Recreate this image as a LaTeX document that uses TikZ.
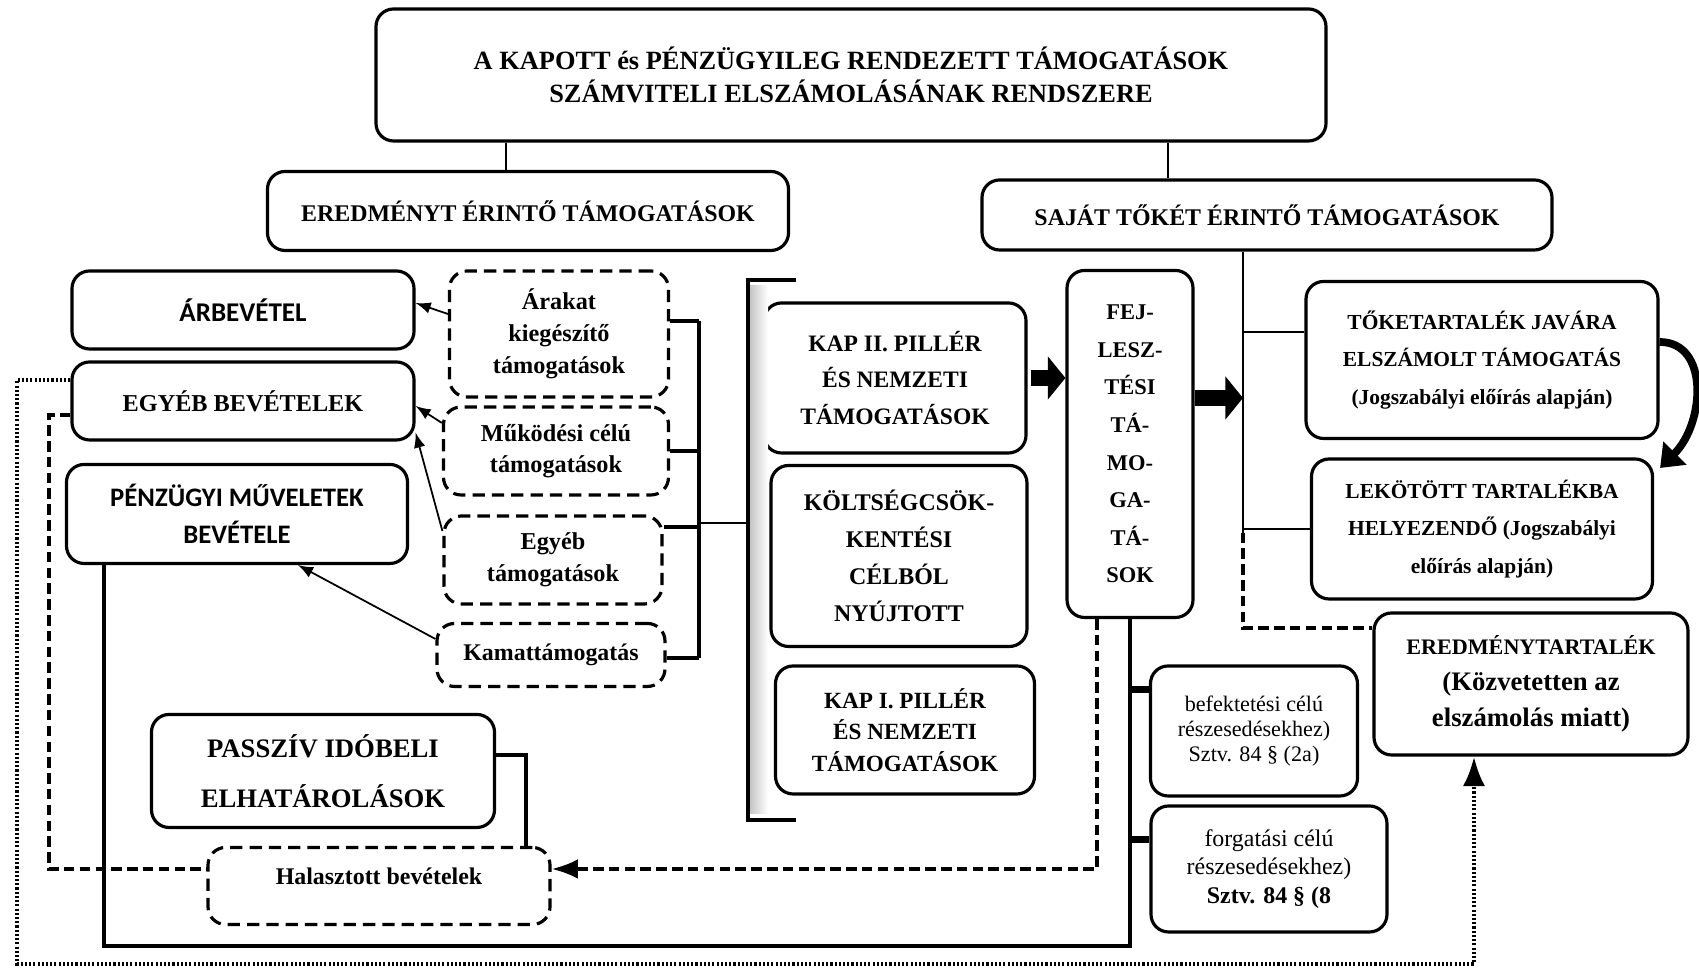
\documentclass[tikz,border=0pt]{standalone}
\usepackage{fontspec}
\setmainfont{Liberation Serif}
\newfontfamily\calib{Carlito}
\usetikzlibrary{arrows.meta}
\newcommand{\fsz}[2]{\fontsize{#1}{#2}\selectfont}

\begin{document}
\begin{tikzpicture}[
    box/.style={draw, rounded corners=5pt, line width=0.9pt, align=center, inner sep=1pt},
    dbox/.style={box, dash pattern=on 3.5pt off 2pt},
    link/.style={line width=0.6pt},
    brace/.style={line width=1.2pt},
    thin arrow/.style={-latex, line width=0.5pt},
    fat arrow/.style={line width=4.5pt, -{Triangle[length=5pt, width=12pt]}},
    dashlink/.style={line width=1pt, dash pattern=on 3pt off 1.5pt},
    dotlink/.style={line width=1.2pt, dash pattern=on 0.6pt off 0.6pt}]

    \useasboundingbox (0,0) rectangle (16.99,9.71);

    % Top level
    \node[box, minimum width=9.5cm, minimum height=1.32cm, font=\bfseries\fsz{7.5}{9.3}] (title) at (8.51,8.96)
        {A KAPOTT és PÉNZÜGYILEG RENDEZETT TÁMOGATÁSOK\\SZÁMVITELI ELSZÁMOLÁSÁNAK RENDSZERE};
    \node[box, minimum width=5.21cm, minimum height=0.79cm, font=\bfseries\fsz{6.8}{8}] (ered) at (5.28,7.60)
        {EREDMÉNYT ÉRINTŐ TÁMOGATÁSOK};
    \node[box, minimum width=5.70cm, minimum height=0.70cm, font=\bfseries\fsz{6.8}{8}] (sajat) at (12.67,7.56)
        {SAJÁT TŐKÉT ÉRINTŐ TÁMOGATÁSOK};

    % Left column
    \node[box, minimum width=3.42cm, minimum height=0.78cm, font=\calib\bfseries\fsz{7.7}{9}] (arbev) at (2.43,6.61) {ÁRBEVÉTEL};
    \node[box, minimum width=3.42cm, minimum height=0.78cm, font=\bfseries\fsz{6.9}{8}] (egyeb) at (2.43,5.70) {EGYÉB BEVÉTELEK};
    \node[box, minimum width=3.41cm, minimum height=0.99cm, font=\calib\bfseries\fsz{7.6}{10.5}] (penz) at (2.37,4.57)
        {PÉNZÜGYI MŰVELETEK\\BEVÉTELE};

    % Dashed support types
    \node[dbox, minimum width=2.19cm, minimum height=1.26cm, font=\bfseries\fsz{6.9}{9.1}] (arakat) at (5.59,6.37)
        {Árakat\\kiegészítő\\támogatások};
    \node[dbox, minimum width=2.25cm, minimum height=0.88cm, font=\bfseries\fsz{6.9}{8.9}] (muk) at (5.56,5.20)
        {Működési célú\\támogatások};
    \node[dbox, minimum width=2.18cm, minimum height=0.88cm, font=\bfseries\fsz{6.9}{9.2}] (egyt) at (5.53,4.11)
        {Egyéb\\támogatások};
    \node[dbox, minimum width=2.28cm, minimum height=0.63cm, font=\bfseries\fsz{6.8}{8}] (kamat) at (5.51,3.16)
        {Kamattámogatás};

    % Middle column
    \node[box, minimum width=2.62cm, minimum height=1.50cm, font=\bfseries\fsz{6.7}{10.5}] (kap2) at (8.95,5.93)
        {KAP II. PILLÉR\\ÉS NEMZETI\\TÁMOGATÁSOK};
    \node[box, minimum width=2.56cm, minimum height=1.81cm, font=\bfseries\fsz{6.8}{10.5}] (kolts) at (8.99,4.15)
        {KÖLTSÉGCSÖK-\\KENTÉSI\\CÉLBÓL\\NYÚJTOTT};
    \node[box, minimum width=2.59cm, minimum height=1.28cm, font=\bfseries\fsz{6.6}{8.9}] (kap1) at (9.05,2.41)
        {KAP I. PILLÉR\\ÉS NEMZETI\\TÁMOGATÁSOK};
    \node[box, minimum width=1.26cm, minimum height=3.47cm, font=\bfseries\fsz{6.4}{10.7}] (fej) at (11.30,5.27)
        {FEJ-\\LESZ-\\TÉSI\\TÁ-\\MO-\\GA-\\TÁ-\\SOK};

    % Right column
    \node[box, minimum width=3.52cm, minimum height=1.57cm, font=\bfseries\fsz{6.1}{10.6}] (toke) at (14.82,6.11)
        {TŐKETARTALÉK JAVÁRA\\ELSZÁMOLT TÁMOGATÁS\\(Jogszabályi előírás alapján)};
    \node[box, minimum width=3.41cm, minimum height=1.40cm, font=\bfseries\fsz{6.1}{10.6}] (lekot) at (14.82,4.42)
        {LEKÖTÖTT TARTALÉKBA\\HELYEZENDŐ (Jogszabályi\\előírás alapján)};
    \node[box, minimum width=3.14cm, minimum height=1.42cm, font=\bfseries\fsz{7.6}{10.3}] (eredt) at (15.31,2.87)
        {{\fsz{6.3}{10.3}EREDMÉNYTARTALÉK}\\(Közvetetten az\\elszámolás miatt)};
    \node[box, minimum width=2.07cm, minimum height=1.30cm, font=\fsz{6.3}{7.1}] (befekt) at (12.54,2.40)
        {befektetési célú\\részesedésekhez)\\Sztv. 84 § (2a)};
    \node[box, minimum width=2.36cm, minimum height=1.26cm, font=\fsz{6.8}{8.2}] (forgat) at (12.69,1.02)
        {forgatási célú\\részesedésekhez)\\\textbf{Sztv. 84 § (8}};

    % Bottom
    \node[box, minimum width=3.43cm, minimum height=1.13cm, font=\bfseries\fsz{7.6}{14.2}] (passz) at (3.23,2.00)
        {PASSZÍV IDÓBELI\\ELHATÁROLÁSOK};
    \node[dbox, minimum width=3.42cm, minimum height=0.77cm, font=\bfseries\fsz{6.8}{8}] (hal) at (3.79,0.85)
        {\raisebox{5.5pt}{Halasztott bevételek}};

    % Title links
    \draw[link] (title.south -| 5.06,0) -- (ered.north -| 5.06,0);
    \draw[link] (title.south -| 11.68,0) -- (sajat.north -| 11.68,0);

    % Arrows to revenues
    \draw[thin arrow] ([yshift=0.2cm]arakat.west) -- ([yshift=0.07cm]arbev.east);
    \draw[thin arrow] ([yshift=0.28cm]muk.west) -- ([yshift=-0.05cm]egyeb.east);
    \draw[thin arrow] ([yshift=0.29cm]egyt.west) -- ([yshift=0.09cm]egyeb.south east);
    \draw[thin arrow] ([yshift=0.16cm]kamat.west) -- ([xshift=0.61cm]penz.south);

    % Small bracket
    \coordinate (bt) at (6.99,6.50);
    \coordinate (bb) at (6.99,3.13);
    \coordinate (bm) at (6.99,4.48);
    \draw[brace] (bt) -- (bb);
    \draw[brace] (arakat.east |- bt) -- (bt);
    \draw[brace] (muk.east) -- (muk.east -| bt);
    \draw[brace] ([yshift=0.33cm]egyt.east) -- ([yshift=0.33cm]egyt.east -| bt);
    \draw[brace] (kamat.east |- bb) -- (bb);

    % Big bracket
    \coordinate (gt) at (7.48,6.91);
    \coordinate (gb) at (7.48,1.51);
    \shade[left color=gray!45, right color=white] (7.50,6.85) rectangle (7.68,1.57);
    \draw[link] (bm) -- (bm -| gt);
    \draw[brace] ([xshift=0.48cm]gt) -- (gt) -- (gb) -- ([xshift=0.48cm]gb);

    % Fat arrows
    \draw[fat arrow] ([xshift=0.03cm]kap2.east) -- (kap2.east -| fej.west);
    \draw[link] ([xshift=-0.24cm]sajat.south) -- ++(0,-2.81) coordinate (sl);
    \draw[fat arrow] ([yshift=0.46cm]fej.east) -- ([yshift=0.46cm]fej.east -| sl);

    % Equity branches
    \draw[link] ([yshift=0.28cm]toke.west) -- ([yshift=0.28cm]toke.west -| sl);
    \draw[link] (lekot.west) -- (lekot.west -| sl);
    \draw[dashlink] (sl) |- ([yshift=0.56cm]eredt.west);
    \draw[line width=2.2pt, -{Triangle[length=6pt, width=9pt]}] ([yshift=0.18cm]toke.east)
        .. controls +(0.5,0) and +(0.45,0.45) .. ([xshift=0.06cm, yshift=0.61cm]lekot.east);

    % Financial line
    \coordinate (low) at (1.04,0.25);
    \draw[line width=1.3pt] (penz.south -| low) -- (low) -- (low -| fej.south) -- (fej.south);
    \draw[line width=2pt] ([yshift=0.41cm]befekt.west) -- ([yshift=0.41cm]befekt.west -| fej.south);
    \draw[line width=2pt] ([yshift=0.29cm]forgat.west) -- ([yshift=0.29cm]forgat.west -| fej.south);

    % Deferred income
    \coordinate (dl) at (0.49,1.02);
    \draw[dashlink] ([yshift=-0.14cm]egyeb.west) -| (dl) -- ([yshift=0.17cm]hal.west);
    \draw[dashlink, -{Latex}] ([xshift=-0.33cm]fej.south) |- ([yshift=0.17cm]hal.east);
    \draw[line width=0.9pt] ([yshift=0.16cm]passz.east) -| ([xshift=1.47cm]hal.north);

    % Dotted return
    \coordinate (dotc) at (0.17,0.07);
    \draw[dotlink, -{Latex}] ([yshift=0.21cm]egyeb.west) -| (dotc) -| ([xshift=-0.57cm]eredt.south);
\end{tikzpicture}
\end{document}
